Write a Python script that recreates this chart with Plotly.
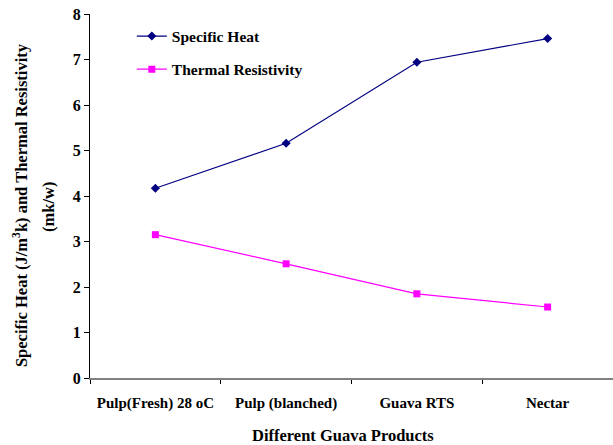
import plotly.graph_objects as go

categories = ["Pulp(Fresh) 28 oC", "Pulp (blanched)", "Guava RTS", "Nectar"]
specific_heat = [4.17, 5.16, 6.94, 7.46]
thermal_resistivity = [3.15, 2.51, 1.85, 1.56]

font_family = "Liberation Serif"

fig = go.Figure()
fig.add_trace(go.Scatter(
    x=categories, y=specific_heat, name="<b>Specific Heat</b>",
    mode="lines+markers", legendgroup="a",
    line=dict(color="#000080", width=1.2),
    marker=dict(symbol="diamond", size=7, color="#000080"),
))
fig.add_trace(go.Scatter(
    x=categories, y=thermal_resistivity, name="<b>Thermal Resistivity</b>",
    mode="lines+markers", legendgroup="b",
    line=dict(color="#FF00FF", width=1.2),
    marker=dict(symbol="square", size=7, color="#FF00FF"),
))

fig.update_layout(
    width=613, height=445,
    margin=dict(l=90, r=0, t=14, b=67, autoexpand=False),
    paper_bgcolor="white", plot_bgcolor="white",
    font=dict(family=font_family, size=15, color="black"),
    showlegend=True,
    legend=dict(
        x=0.08, y=0.985, xanchor="left", yanchor="top",
        bgcolor="rgba(0,0,0,0)", traceorder="grouped", tracegroupgap=10,
        font=dict(family=font_family, size=15.5, color="black"),
        itemwidth=30,
    ),
    xaxis=dict(
        type="category", range=[-0.5, 3.5],
        showgrid=False, showline=True, linecolor="#808080", linewidth=2,
        ticks="outside", tickson="boundaries", ticklen=4, tickcolor="#000000",
        ticklabelstandoff=10,
        tickfont=dict(family=font_family, size=15, color="black", weight="bold"),
        zeroline=False, automargin=False,
    ),
    yaxis=dict(
        range=[0, 8], dtick=1,
        showgrid=False, showline=True, linecolor="black", linewidth=1,
        ticks="outside", ticklen=5, tickcolor="black",
        tickfont=dict(family=font_family, size=16, color="black", weight="bold"),
        zeroline=False, automargin=False,
    ),
    annotations=[
        dict(text="<b>Specific Heat (J/m<sup>3</sup>k) and Thermal Resistivity</b>",
             xref="paper", yref="paper", x=0, y=0.475, xshift=-70,
             xanchor="center", yanchor="middle", textangle=-90, showarrow=False,
             font=dict(family=font_family, size=16.5, color="black")),
        dict(text="<b>(mk/w)</b>",
             xref="paper", yref="paper", x=0, y=0.47, xshift=-41,
             xanchor="center", yanchor="middle", textangle=-90, showarrow=False,
             font=dict(family=font_family, size=16.5, color="black")),
        dict(text="<b>Different Guava Products</b>",
             xref="paper", yref="paper", x=0.484, y=0, yshift=-57,
             xanchor="center", yanchor="middle", showarrow=False,
             font=dict(family=font_family, size=16.5, color="black")),
    ],
)

fig.write_html("out.html", config={"displayModeBar": False},
               post_script="document.body.style.margin='0';")
